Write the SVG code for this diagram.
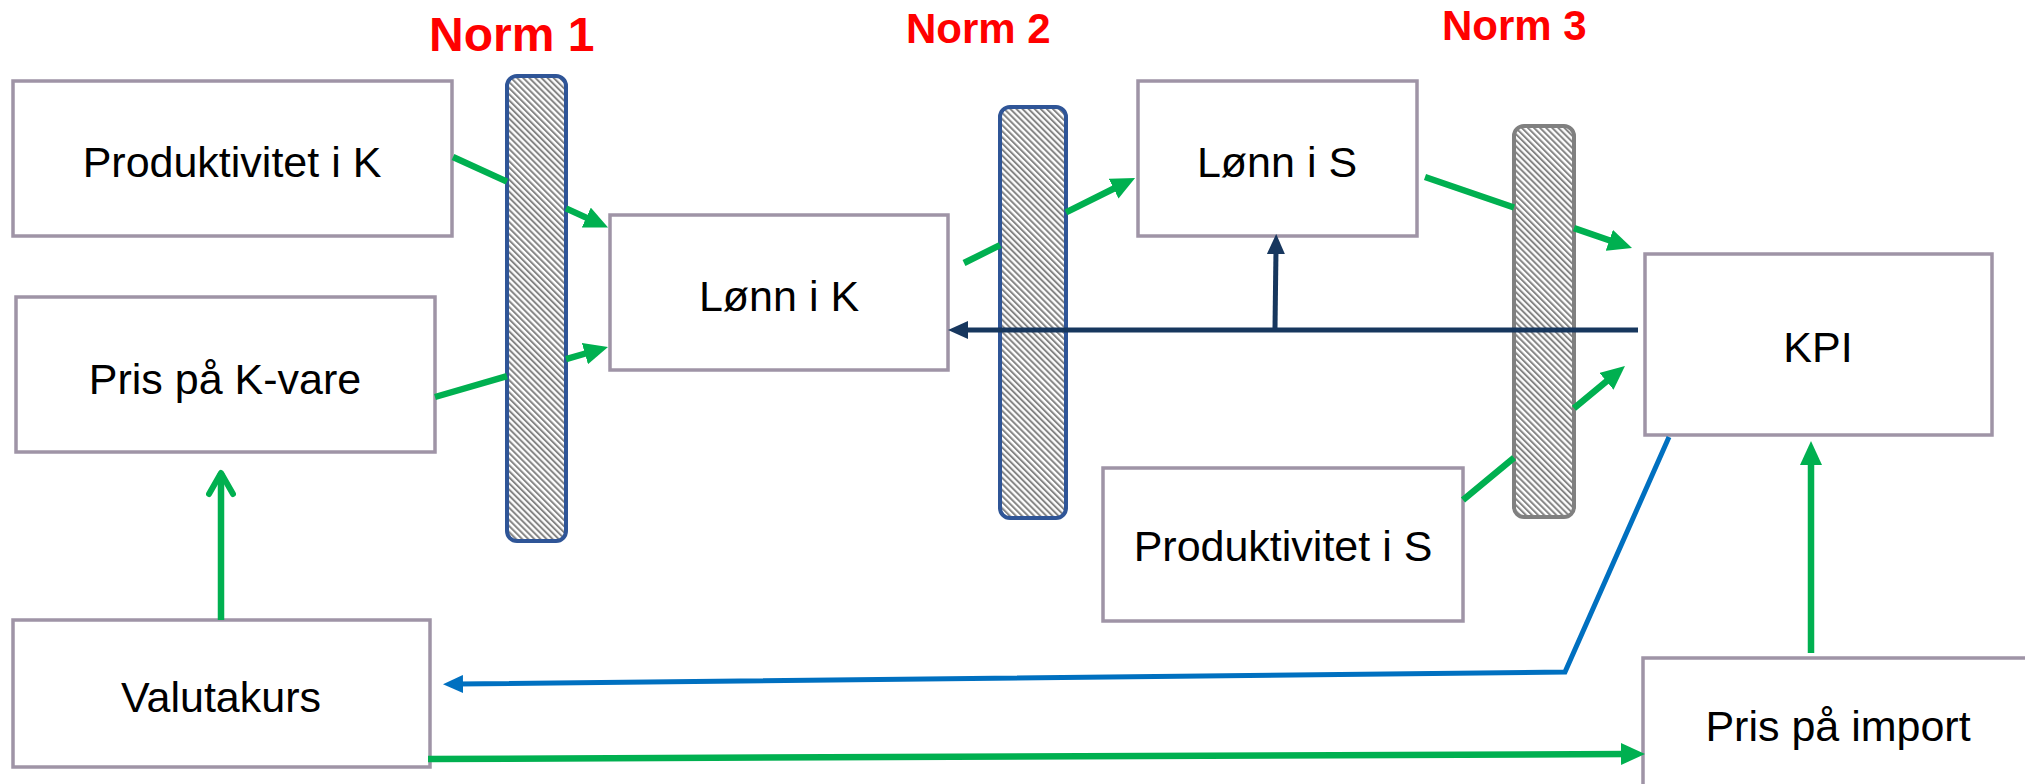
<svg xmlns="http://www.w3.org/2000/svg" width="2025" height="784" viewBox="0 0 2025 784">
  <defs>
    <style>
      .box { fill: #ffffff; stroke: #9f94a6; stroke-width: 3.5; }
      .lbl { font-family: "Liberation Sans", Arial, sans-serif; font-size: 43px; fill: #000000; text-anchor: middle; }
      .norm { font-family: "Liberation Sans", Arial, sans-serif; font-weight: bold; fill: #ff0000; }
      .bar { fill: url(#hatch); stroke-width: 4; }
      .green { fill: none; stroke: #00b050; stroke-width: 6.5; }
      .navy { fill: none; stroke: #17375e; stroke-width: 5; }
      .blue { fill: none; stroke: #0070c0; stroke-width: 5; }
    </style>
    <pattern id="hatch" patternUnits="userSpaceOnUse" width="4.3" height="10" patternTransform="rotate(-45)">
      <rect x="0" y="0" width="4.3" height="10" fill="#ffffff"/>
      <rect x="0" y="0" width="2" height="10" fill="#858585"/>
    </pattern>
    <marker id="ag" markerUnits="userSpaceOnUse" markerWidth="24" markerHeight="22" viewBox="0 0 24 22" refX="6" refY="11" orient="auto">
      <path d="M0,0 L24,11 L0,22 z" fill="#00b050"/>
    </marker>
    <marker id="agOpen" markerUnits="userSpaceOnUse" markerWidth="30" markerHeight="30" viewBox="0 0 30 30" refX="26" refY="15" orient="auto">
      <path d="M5,3 L26,15 L5,27" fill="none" stroke="#00b050" stroke-width="6" stroke-linecap="round" stroke-linejoin="round"/>
    </marker>
    <marker id="an" markerUnits="userSpaceOnUse" markerWidth="20" markerHeight="18" viewBox="0 0 20 18" refX="5" refY="9" orient="auto">
      <path d="M0,0 L20,9 L0,18 z" fill="#17375e"/>
    </marker>
    <marker id="ab" markerUnits="userSpaceOnUse" markerWidth="20" markerHeight="18" viewBox="0 0 20 18" refX="5" refY="9" orient="auto">
      <path d="M0,0 L20,9 L0,18 z" fill="#0070c0"/>
    </marker>
  </defs>

  <rect x="0" y="0" width="2025" height="784" fill="#ffffff"/>

  <g id="norm-labels">
    <text class="norm" x="429" y="51" font-size="48">Norm 1</text>
    <text class="norm" x="906" y="43" font-size="42">Norm 2</text>
    <text class="norm" x="1442" y="40" font-size="42">Norm 3</text>
  </g>

  <g id="node-produktivitet-k">
    <rect class="box" x="13" y="81" width="439" height="155"/>
    <text class="lbl" x="232" y="177">Produktivitet i K</text>
  </g>
  <g id="node-pris-k-vare">
    <rect class="box" x="16" y="297" width="419" height="155"/>
    <text class="lbl" x="225" y="394">Pris på K-vare</text>
  </g>
  <g id="node-lonn-k">
    <rect class="box" x="610" y="215" width="338" height="155"/>
    <text class="lbl" x="779" y="311">Lønn i K</text>
  </g>
  <g id="node-lonn-s">
    <rect class="box" x="1138" y="81" width="279" height="155"/>
    <text class="lbl" x="1277" y="177">Lønn i S</text>
  </g>
  <g id="node-kpi">
    <rect class="box" x="1645" y="254" width="347" height="181"/>
    <text class="lbl" x="1818" y="362">KPI</text>
  </g>
  <g id="node-produktivitet-s">
    <rect class="box" x="1103" y="468" width="360" height="153"/>
    <text class="lbl" x="1283" y="561" font-size="40">Produktivitet i S</text>
  </g>
  <g id="node-valutakurs">
    <rect class="box" x="13" y="620" width="417" height="147"/>
    <text class="lbl" x="221" y="712">Valutakurs</text>
  </g>
  <g id="node-pris-import">
    <rect class="box" x="1643" y="658" width="400" height="140"/>
    <text class="lbl" x="1838" y="741">Pris på import</text>
  </g>

  <g id="node-norm1-bar">
    <rect class="bar" x="507" y="76" width="59" height="465" rx="10" ry="10" stroke="#2f5597"/>
  </g>
  <g id="node-norm2-bar">
    <rect class="bar" x="1000" y="107" width="66" height="411" rx="10" ry="10" stroke="#2f5597"/>
  </g>
  <g id="node-norm3-bar">
    <rect class="bar" x="1514" y="126" width="60" height="391" rx="10" ry="10" stroke="#808080"/>
  </g>

  <g id="connectors">
    <path class="green" d="M453,157 L507,181.6 M566,208.4 L591.7,220.1" marker-end="url(#ag)"/>
    <path class="green" d="M435,397 L507,376.2 M566,359.1 L590.7,352" marker-end="url(#ag)"/>
    <path class="green" d="M221,620 L221,473" marker-end="url(#agOpen)"/>
    <path class="green" d="M964,263 L1000,245.1 M1066,212.3 L1119,186" marker-end="url(#ag)"/>
    <path class="green" d="M1425,177 L1514,207.5 M1574,228.1 L1615,242.2" marker-end="url(#ag)"/>
    <path class="green" d="M1463,500 L1514,457.8 M1574,408.2 L1611.1,377.5" marker-end="url(#ag)"/>
    <path class="green" d="M1811,653 L1811,459" marker-end="url(#ag)"/>
    <path class="green" d="M428,759 L1627,754" marker-end="url(#ag)"/>
    <path class="navy" d="M1638,330 L963,330" marker-end="url(#an)"/>
    <path class="navy" d="M1275,328 L1276,249" marker-end="url(#an)"/>
    <path class="blue" d="M1669,437 L1565,672 L458,684" marker-end="url(#ab)"/>
  </g>
</svg>
